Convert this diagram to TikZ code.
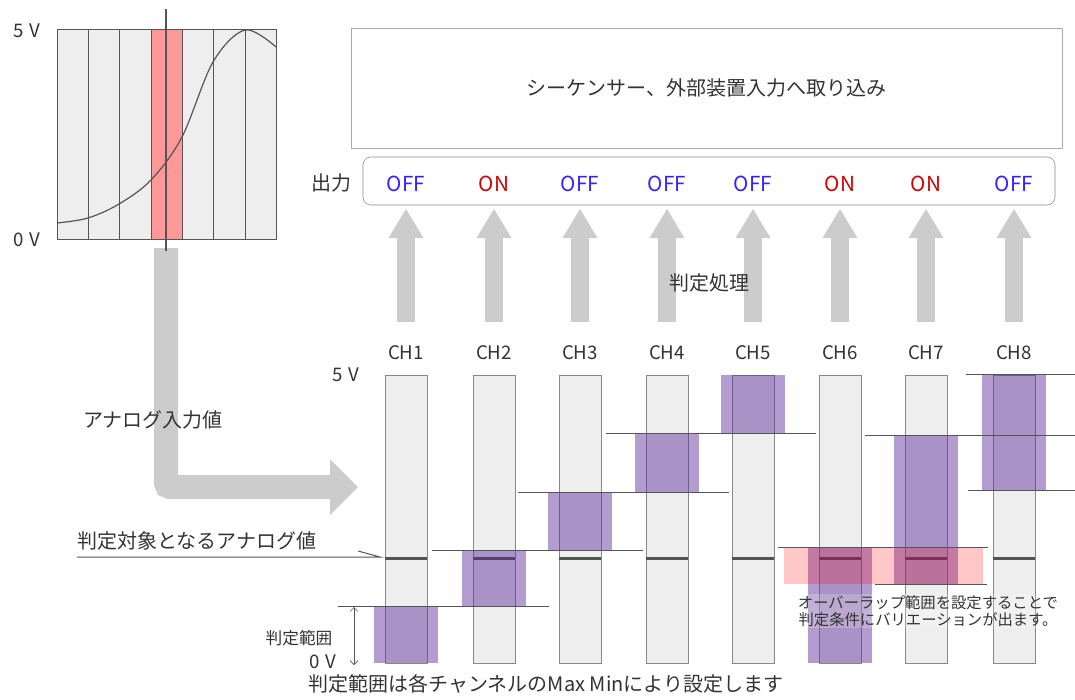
\documentclass[tikz,border=0pt]{standalone}
\usepackage{fontspec}
\setmainfont{Noto Sans CJK JP}
\usepackage{tikz}
\usetikzlibrary{arrows.meta}

\definecolor{txtgray}{HTML}{333333}
\definecolor{lightbar}{HTML}{EEEEEE}
\definecolor{framegray}{HTML}{888888}
\definecolor{fatgray}{HTML}{CCCCCC}
\definecolor{lvlline}{HTML}{555555}
\definecolor{rangeviolet}{RGB}{93,46,155}
\definecolor{offblue}{RGB}{51,34,255}
\definecolor{onred}{RGB}{210,0,0}
\definecolor{cursorred}{RGB}{255,153,153}

\tikzset{
  uparrow/.style={color=fatgray, line width=13.5pt, -{Triangle[length=21.75pt,width=26.25pt,line width=0pt]}},
  markline/.style={draw=darkgray!90, line width=2.25pt},
  lvl/.style={draw=lvlline, line width=0.75pt},
  chfont/.style={font=\fontsize{14pt}{16pt}\selectfont},
  note/.style={font=\fontsize{11.5pt}{12.75pt}\selectfont},
}

\begin{document}
\begin{tikzpicture}[x=0.75pt,y=-0.75pt,font=\fontsize{15pt}{18pt}\selectfont,text=txtgray]
\useasboundingbox (0,0) rectangle (1075,700);

% analog input
\fill[lightbar] (57,29) rectangle (276,239);
\fill[cursorred] (151,29) rectangle (182,239);
\foreach \x in {88,119,151,182,213,245}
  \draw[lvlline, line width=0.75pt] (\x,29) -- (\x,239);
\draw[lvlline, line width=0.75pt] (57,29) rectangle (276,239);
\draw[lvlline, line width=0.9pt] plot[smooth, tension=0.55] coordinates {(57,223) (88,218) (119,204) (151,180) (182,137) (213,62) (245,30) (276,47)};
\draw[chfont] (27,31) node (in5v) {5\hspace{0.3em}V};
\draw[chfont] (27,240) node (in0v) {0\hspace{0.3em}V};

\coordinate (tap) at (166,248);
\coordinate (feed) at (358,487);
\draw[color=fatgray, line width=18pt, rounded corners=3pt, -{Triangle[length=21pt,width=42pt,line width=0pt]}] (tap) |- (feed);
\draw[lvlline, line width=0.9pt] (166,9) -- (166,251);

% output
\node[draw=framegray!70, minimum width=533pt, minimum height=90pt] (seq) at (706.5,88) {シーケンサー、外部装置入力へ取り込み};
\node[draw=framegray, rounded corners=6pt, minimum width=519pt, minimum height=36pt] (outbox) at (709,181) {};
\draw (331,183) node (outlbl) {出力};

% channels
\foreach \i/\x/\st/\col/\ylo/\yhi in {1/406/OFF/offblue/663/606, 2/494/ON/onred/606/550, 3/580/OFF/offblue/550/492, 4/667/OFF/offblue/492/433, 5/753/OFF/offblue/433/375, 6/840/ON/onred/663/547, 7/926/ON/onred/584/435, 8/1014/OFF/offblue/490/375}{
  \draw (\x,184) node[text=\col, font=\fontsize{15.5pt}{18pt}\selectfont] (out\i) {\st};
  \coordinate (src\i) at (\x,322);
  \coordinate (dst\i) at (\x,209);
  \draw[uparrow] (src\i) -- (dst\i);
  \draw[chfont] (\x,353) node (ch\i) {CH\i};
  \draw[fill=lightbar, draw=framegray, line width=0.75pt] (\x-21,375) rectangle (\x+21,663);
  \draw[markline] (\x-21,558) -- (\x+21,558);
  \fill[rangeviolet, fill opacity=0.47] (\x-32,\yhi) rectangle (\x+32,\ylo);
}
\fill[red, fill opacity=0.22] (784,547) rectangle (983,584);
\draw (709,283) node (judge) {判定処理};

\foreach \xa/\xb/\y in {338/549/606, 432/643/550, 518/729/492, 606/816/433, 966/1075/374, 865/1075/435, 968/1075/490, 778/988/547, 875/987/584}
  \draw[lvl] (\xa,\y) -- (\xb,\y);

\draw[chfont] (346,375) node (bar5v) {5\hspace{0.3em}V};
\draw[chfont] (323,662) node (bar0v) {0\hspace{0.3em}V};

% notes
\draw (153,420) node (analog) {アナログ入力値};
\node[inner sep=0pt] (target) at (197,541) {判定対象となるアナログ値};
\coordinate (tgt) at (380,557);
\draw[lvl] (target.south west |- tgt) -- (tgt) -- ++(-22,-6);
\draw[font=\fontsize{12.5pt}{14pt}\selectfont] (299,638) node (rangelbl) {判定範囲};
\coordinate (rtop) at (354,607);
\coordinate (rbot) at (354,665);
\draw[lvl, line width=0.5pt, {Straight Barb[length=3pt,width=6pt]}-{Straight Barb[length=3pt,width=6pt]}] (rtop) -- (rbot);
\draw (546,684) node (howto) {判定範囲は各チャンネルのMax Minにより設定します};
\node[note, align=center, fill=white, fill opacity=0.2, text opacity=1, inner sep=1pt] (overlap) at (928,611) {オーバーラップ範囲を設定することで\\判定条件にバリエーションが出ます。};
\end{tikzpicture}
\end{document}
